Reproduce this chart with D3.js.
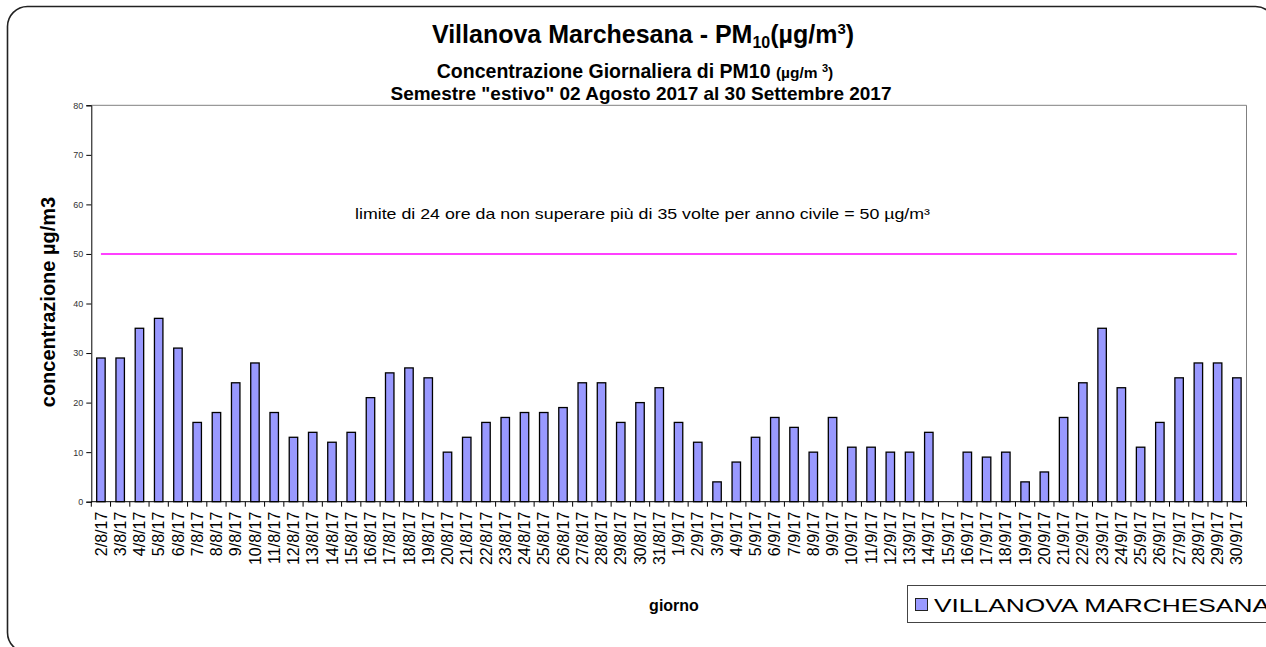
<!DOCTYPE html>
<html>
<head>
<meta charset="utf-8">
<script src="https://cdn.jsdelivr.net/npm/d3@7"></script>
<style>
  body { margin: 0; background: #fff; }
  svg { display: block; font-family: Arial, 'Liberation Sans', sans-serif; }
</style>
</head>
<body>
<svg id="chart" width="1266" height="647"></svg>
<script>
// giorni (2 agosto - 30 settembre 2017)
const days = [
  '2/8/17', '3/8/17', '4/8/17', '5/8/17', '6/8/17', '7/8/17', '8/8/17', '9/8/17', '10/8/17', '11/8/17',
  '12/8/17', '13/8/17', '14/8/17', '15/8/17', '16/8/17', '17/8/17', '18/8/17', '19/8/17', '20/8/17', '21/8/17',
  '22/8/17', '23/8/17', '24/8/17', '25/8/17', '26/8/17', '27/8/17', '28/8/17', '29/8/17', '30/8/17', '31/8/17',
  '1/9/17', '2/9/17', '3/9/17', '4/9/17', '5/9/17', '6/9/17', '7/9/17', '8/9/17', '9/9/17', '10/9/17',
  '11/9/17', '12/9/17', '13/9/17', '14/9/17', '15/9/17', '16/9/17', '17/9/17', '18/9/17', '19/9/17', '20/9/17',
  '21/9/17', '22/9/17', '23/9/17', '24/9/17', '25/9/17', '26/9/17', '27/9/17', '28/9/17', '29/9/17', '30/9/17'
];

// PM10 giornaliero (µg/m3), null = dato mancante
const pm10 = [
  29, 29, 35, 37, 31, 16, 18, 24, 28, 18,
  13, 14, 12, 14, 21, 26, 27, 25, 10, 13,
  16, 17, 18, 18, 19, 24, 24, 16, 20, 23,
  16, 12, 4, 8, 13, 17, 15, 10, 17, 11,
  11, 10, 10, 14, null, 10, 9, 10, 4, 6,
  17, 24, 35, 23, 11, 16, 25, 28, 28, 25
];

const yTicks = [0, 10, 20, 30, 40, 50, 60, 70, 80];
const limitValue = 50;
const seriesName = 'VILLANOVA MARCHESANA';

const svg = d3.select('#chart');

const plot = { left: 91.3, right: 1246.5, top: 105.3, bottom: 501.7 };

const x = d3.scaleBand().domain(days).range([plot.left, plot.right]).paddingInner(0).paddingOuter(0);
const y = d3.scaleLinear().domain([0, 80]).range([plot.bottom, plot.top]);

// cornice esterna arrotondata
svg.append('rect')
  .attr('x', 7.5).attr('y', 6.5)
  .attr('width', 1268).attr('height', 646)
  .attr('rx', 20)
  .style('fill', 'none')
  .style('stroke', '#222')
  .style('stroke-width', 1.6);

// titoli
const title = svg.append('text')
  .attr('x', 643).attr('y', 43)
  .attr('text-anchor', 'middle')
  .style('font-size', '25px')
  .style('font-weight', 'bold');
title.append('tspan').text('Villanova Marchesana - PM');
title.append('tspan').attr('dy', 5).style('font-size', '16px').text('10');
title.append('tspan').attr('dy', -5).text('(µg/m');
title.append('tspan').attr('dy', -9).style('font-size', '15px').text('3');
title.append('tspan').attr('dy', 9).text(')');

const sub1 = svg.append('text')
  .attr('x', 635).attr('y', 78)
  .attr('text-anchor', 'middle')
  .style('font-size', '19.5px')
  .style('font-weight', 'bold');
sub1.append('tspan').text('Concentrazione Giornaliera di PM10 ');
sub1.append('tspan').style('font-size', '15.5px').text('(µg/m ');
sub1.append('tspan').attr('dy', -6).style('font-size', '11px').text('3');
sub1.append('tspan').attr('dy', 6).style('font-size', '15.5px').text(')');

svg.append('text')
  .attr('x', 641).attr('y', 100)
  .attr('text-anchor', 'middle')
  .style('font-size', '19px')
  .style('font-weight', 'bold')
  .text('Semestre "estivo" 02 Agosto 2017 al 30 Settembre 2017');

// bordo area grafico (alto e destra grigi)
svg.append('path')
  .attr('d', `M${plot.left},${plot.top}H${plot.right}V${plot.bottom}`)
  .style('fill', 'none')
  .style('stroke', '#808080')
  .style('stroke-width', 1);

// barre
svg.append('g')
  .selectAll('rect')
  .data(days.map((d, i) => ({ day: d, value: pm10[i] })).filter(d => d.value !== null))
  .join('rect')
  .attr('x', d => x(d.day) + x.bandwidth() * 0.28)
  .attr('y', d => y(d.value))
  .attr('width', x.bandwidth() * 0.44)
  .attr('height', d => y(0) - y(d.value))
  .style('fill', '#9999FF')
  .style('stroke', '#000')
  .style('stroke-width', 1.3);

// linea limite
svg.append('line')
  .attr('x1', x(days[0]) + x.bandwidth() / 2)
  .attr('x2', x(days[days.length - 1]) + x.bandwidth() / 2)
  .attr('y1', y(limitValue))
  .attr('y2', y(limitValue))
  .style('stroke', '#FF00FF')
  .style('stroke-width', 1.5);

svg.append('text')
  .attr('x', 355).attr('y', 219)
  .attr('textLength', 575)
  .attr('lengthAdjust', 'spacingAndGlyphs')
  .style('font-size', '14.5px')
  .text('limite di 24 ore da non superare più di 35 volte per anno civile = 50 µg/m³');

// asse y
const yAxis = svg.append('g')
  .attr('transform', `translate(${plot.left},0)`)
  .call(d3.axisLeft(y).tickValues(yTicks).tickSize(5).tickPadding(3));
yAxis.select('.domain').style('stroke', '#000');
yAxis.selectAll('.tick line').style('stroke', '#000');
yAxis.selectAll('.tick text')
  .style('font-size', '9px')
  .style('font-family', 'Arial, "Liberation Sans", sans-serif')
  .style('fill', '#333');

// asse x: tacche ai bordi delle categorie
const xAxis = svg.append('g');
xAxis.append('line')
  .attr('x1', plot.left).attr('x2', plot.right)
  .attr('y1', plot.bottom).attr('y2', plot.bottom)
  .style('stroke', '#000');
xAxis.selectAll('.edge')
  .data(days.concat(['__end']))
  .join('line')
  .attr('class', 'edge')
  .attr('x1', (d, i) => i < days.length ? x(d) : plot.right)
  .attr('x2', (d, i) => i < days.length ? x(d) : plot.right)
  .attr('y1', plot.bottom)
  .attr('y2', plot.bottom + 5)
  .style('stroke', '#000');
xAxis.selectAll('.lbl')
  .data(days)
  .join('text')
  .attr('class', 'lbl')
  .attr('transform', d => `translate(${x(d) + x.bandwidth() / 2},${plot.bottom + 10}) rotate(-90)`)
  .attr('text-anchor', 'end')
  .attr('dy', '0.35em')
  .style('font-size', '16px')
  .text(d => d);

// titoli assi
svg.append('text')
  .attr('transform', 'translate(55,302) rotate(-90)')
  .attr('text-anchor', 'middle')
  .style('font-size', '20px')
  .style('font-weight', 'bold')
  .text('concentrazione µg/m3');

svg.append('text')
  .attr('x', 674).attr('y', 611)
  .attr('text-anchor', 'middle')
  .style('font-size', '16px')
  .style('font-weight', 'bold')
  .text('giorno');

// legenda
const legend = svg.append('g');
legend.append('rect')
  .attr('x', 907.5).attr('y', 585.5)
  .attr('width', 400).attr('height', 37)
  .style('fill', '#fff')
  .style('stroke', '#444')
  .style('stroke-width', 1);
legend.append('rect')
  .attr('x', 915.5).attr('y', 598.5)
  .attr('width', 12).attr('height', 12)
  .style('fill', '#9999FF')
  .style('stroke', '#222');
legend.append('text')
  .attr('x', 934).attr('y', 612)
  .attr('textLength', 336)
  .attr('lengthAdjust', 'spacingAndGlyphs')
  .style('font-size', '19px')
  .text(seriesName);
</script>
</body>
</html>
